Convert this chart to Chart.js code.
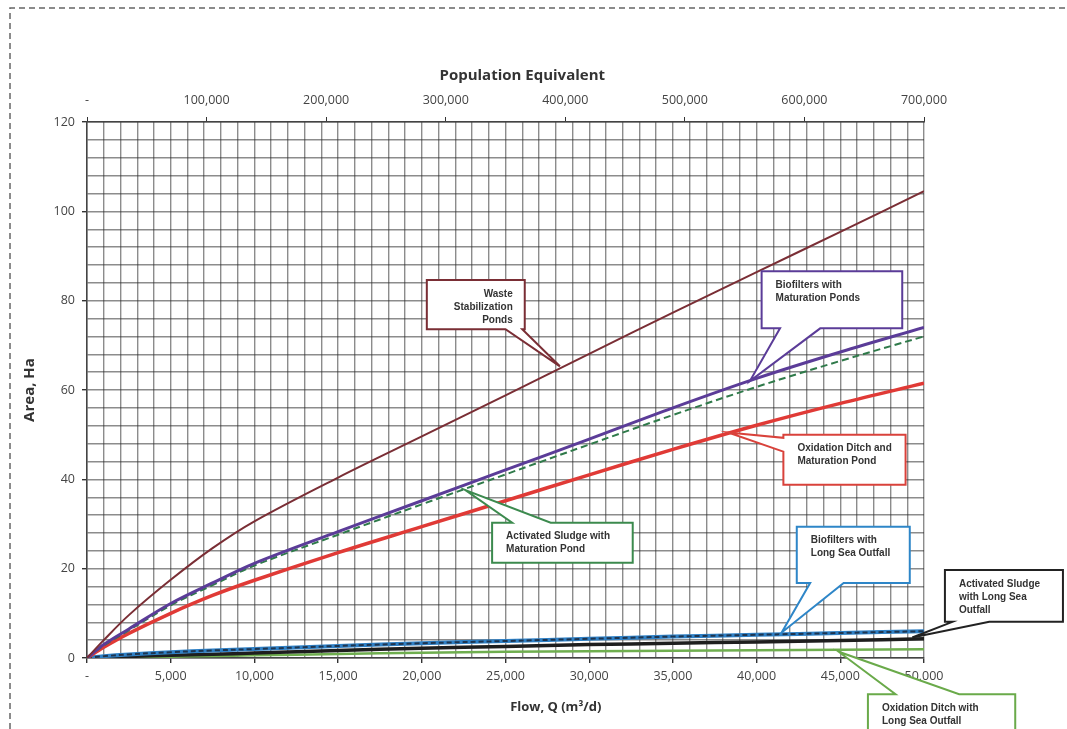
<!DOCTYPE html>
<html>
<head>
<meta charset="utf-8">
<script src="https://cdn.jsdelivr.net/npm/chart.js@4.4.1/dist/chart.umd.min.js"></script>
<style>
  html, body { margin: 0; padding: 0; background: #fff; }
  #wrap { width: 1067px; height: 729px; position: relative; }
</style>
</head>
<body>
<div id="wrap"><canvas id="myChart"></canvas></div>
<script>
// Flow, Q (m3/d) sample points
const flow = [0, 1000, 2500, 5000, 7500, 10000, 15000, 20000, 25000, 30000, 35000, 40000, 45000, 50000];

// Area, Ha
const wasteStabPonds   = [0, 4.0, 9.6, 17.5, 24.6, 30.6, 40.4, 49.6, 58.8, 68.1, 77.3, 86.4, 95.4, 104.5];
const biofiltersMP     = [0, 3.0, 6.5, 12.2, 16.8, 21.2, 28.3, 35.2, 42.1, 49, 56, 62.6, 68.5, 74];
const activatedMP      = [0, 2.8, 6.2, 11.8, 16.3, 20.7, 27.6, 34.4, 41.1, 47.8, 54.4, 60.7, 66.5, 72];
const oxidationMP      = [0, 2.4, 5.5, 10, 14, 17.4, 23.6, 29.4, 35.2, 41, 46.7, 52.1, 57, 61.5];
const biofiltersLSO    = [0, 0.4, 0.8, 1.3, 1.7, 2.0, 2.7, 3.3, 3.8, 4.3, 4.8, 5.2, 5.6, 6.0];
const activatedLSO     = [0, 0.15, 0.35, 0.6, 0.85, 1.1, 1.7, 2.2, 2.6, 3.0, 3.3, 3.6, 3.9, 4.3];
const oxidationLSO     = [0, 0.06, 0.15, 0.3, 0.45, 0.6, 0.9, 1.2, 1.4, 1.5, 1.65, 1.75, 1.85, 1.95];

// tick labels
const areaLabels = [0, 20, 40, 60, 80, 100, 120];
const flowLabels = [5000, 10000, 15000, 20000, 25000, 30000, 35000, 40000, 45000, 50000];
const popLabels  = [100000, 200000, 300000, 400000, 500000, 600000, 700000];

const pts = (arr) => arr.map((v, i) => ({ x: flow[i], y: v }));
const fmt = (v) => v.toLocaleString('en-US');

// callout boxes, positioned in data units (flow, area)
const callouts = [
  { lines: ['Waste', 'Stabilization', 'Ponds'], color: '#7a2e35', align: 'right',
    box: [20300, 84.6, 26150, 73.6], side: 'bottom', base: [25000, 26000], tip: [28250, 65.3] },
  { lines: ['Biofilters with', 'Maturation Ponds'], color: '#5b3c98', align: 'left',
    box: [40300, 86.6, 48700, 73.8], side: 'bottom', base: [41400, 43800], tip: [39600, 62.0] },
  { lines: ['Oxidation Ditch and', 'Maturation Pond'], color: '#d9423b', align: 'left',
    box: [41600, 50.0, 48900, 38.8], side: 'left', base: [49.3, 46.2], tip: [38300, 50.5] },
  { lines: ['Activated Sludge with', 'Maturation Pond'], color: '#3c8a4e', align: 'left',
    box: [24200, 30.3, 32600, 21.3], side: 'top', base: [25400, 27700], tip: [22600, 37.6] },
  { lines: ['Biofilters with', 'Long Sea Outfall'], color: '#2e86c8', align: 'left',
    box: [42400, 29.4, 49150, 16.8], side: 'bottom', base: [43200, 45200], tip: [41500, 5.7] },
  { lines: ['Activated Sludge', 'with Long Sea', 'Outfall'], color: '#222222', align: 'left',
    box: [51250, 19.7, 58300, 8.1], side: 'bottom', base: [51700, 53900], tip: [49300, 4.6] },
  { lines: ['Oxidation Ditch with', 'Long Sea Outfall'], color: '#6aaa4a', align: 'left',
    box: [46650, -8.1, 55450, -17.5], side: 'top', base: [48300, 52100], tip: [44900, 1.4] }
];

const pagePlugin = {
  id: 'page',
  beforeDraw(chart) {
    const ctx = chart.ctx;
    ctx.save();
    ctx.fillStyle = '#fff';
    ctx.fillRect(0, 0, chart.width, chart.height);
    // scanned frame
    ctx.strokeStyle = '#666';
    ctx.lineWidth = 1.5;
    ctx.setLineDash([6, 4]);
    ctx.beginPath();
    ctx.moveTo(10, chart.height);
    ctx.lineTo(10, 8);
    ctx.lineTo(chart.width, 8);
    ctx.stroke();
    ctx.restore();
  },
  afterDraw(chart) {
    const ctx = chart.ctx;
    const xs = chart.scales.x, ys = chart.scales.y;
    const a = chart.chartArea;

    // axis titles
    ctx.save();
    ctx.fillStyle = '#333';
    ctx.textAlign = 'center';
    ctx.textBaseline = 'middle';
    ctx.font = 'bold 15px "Open Sans", sans-serif';
    ctx.fillText('Population Equivalent', a.left + (a.right - a.left) * 0.52, 76);
    ctx.font = 'bold 13px "Open Sans", sans-serif';
    ctx.fillText('Flow, Q (m\u00B3/d)', a.left + (a.right - a.left) * 0.56, 707);
    ctx.translate(30, (a.top + a.bottom) / 2);
    ctx.rotate(-Math.PI / 2);
    ctx.font = 'bold 15px "Open Sans", sans-serif';
    ctx.fillText('Area, Ha', 0, 0);
    ctx.restore();

    // callouts
    callouts.forEach((c) => {
      const L = xs.getPixelForValue(c.box[0]);
      const T = ys.getPixelForValue(c.box[1]);
      const R = xs.getPixelForValue(c.box[2]);
      const B = ys.getPixelForValue(c.box[3]);
      const tx = xs.getPixelForValue(c.tip[0]);
      const ty = ys.getPixelForValue(c.tip[1]);
      ctx.save();
      ctx.beginPath();
      if (c.side === 'bottom') {
        const b1 = xs.getPixelForValue(c.base[0]), b2 = xs.getPixelForValue(c.base[1]);
        ctx.moveTo(L, T); ctx.lineTo(R, T); ctx.lineTo(R, B);
        ctx.lineTo(b2, B); ctx.lineTo(tx, ty); ctx.lineTo(b1, B);
        ctx.lineTo(L, B);
      } else if (c.side === 'top') {
        const b1 = xs.getPixelForValue(c.base[0]), b2 = xs.getPixelForValue(c.base[1]);
        ctx.moveTo(L, T); ctx.lineTo(b1, T); ctx.lineTo(tx, ty); ctx.lineTo(b2, T);
        ctx.lineTo(R, T); ctx.lineTo(R, B); ctx.lineTo(L, B);
      } else {
        const b1 = ys.getPixelForValue(c.base[0]), b2 = ys.getPixelForValue(c.base[1]);
        ctx.moveTo(L, T); ctx.lineTo(R, T); ctx.lineTo(R, B); ctx.lineTo(L, B);
        ctx.lineTo(L, b2); ctx.lineTo(tx, ty); ctx.lineTo(L, b1);
      }
      ctx.closePath();
      ctx.fillStyle = '#fff';
      ctx.fill();
      ctx.strokeStyle = c.color;
      ctx.lineWidth = 2;
      ctx.lineJoin = 'miter';
      ctx.stroke();

      ctx.fillStyle = '#333';
      ctx.font = 'bold 10px "Liberation Sans Narrow", "Liberation Sans", sans-serif';
      ctx.textBaseline = 'middle';
      ctx.textAlign = c.align;
      const x = c.align === 'right' ? R - 12 : L + 14;
      c.lines.forEach((ln, i) => ctx.fillText(ln, x, T + 14 + i * 13));
      ctx.restore();
    });
  }
};

const tickFont = { family: '"Open Sans", sans-serif', size: 12.5 };
const gridColor = 'rgba(45,45,45,0.55)';

const ctx = document.getElementById('myChart').getContext('2d');
const myChart = new Chart(ctx, {
  type: 'line',
  data: {
    datasets: [
      { label: 'Waste Stabilization Ponds', data: pts(wasteStabPonds), borderColor: '#7a2e35', borderWidth: 2 },
      { label: 'Biofilters with Maturation Ponds', data: pts(biofiltersMP), borderColor: '#5b3c98', borderWidth: 3 },
      { label: 'Activated Sludge with Maturation Pond', data: pts(activatedMP), borderColor: '#2f7a4a', borderWidth: 2, borderDash: [7, 4] },
      { label: 'Oxidation Ditch and Maturation Pond', data: pts(oxidationMP), borderColor: '#e03a36', borderWidth: 3.5 },
      { label: 'Biofilters with Long Sea Outfall (dash)', data: pts(biofiltersLSO), borderColor: '#1e3550', borderWidth: 2, borderDash: [5, 3] },
      { label: 'Biofilters with Long Sea Outfall', data: pts(biofiltersLSO), borderColor: '#2f80c5', borderWidth: 4 },
      { label: 'Activated Sludge with Long Sea Outfall', data: pts(activatedLSO), borderColor: '#1e1e1e', borderWidth: 3.5 },
      { label: 'Oxidation Ditch with Long Sea Outfall', data: pts(oxidationLSO), borderColor: '#6fae4f', borderWidth: 2.5 }
    ]
  },
  options: {
    responsive: true,
    maintainAspectRatio: false,
    animation: false,
    layout: { padding: { left: 0, top: 0, right: 143, bottom: 0 } },
    elements: {
      point: { radius: 0 },
      line: { tension: 0.35, fill: false }
    },
    plugins: { legend: { display: false }, tooltip: { enabled: false } },
    scales: {
      x: {
        type: 'linear', position: 'bottom', min: 0, max: 50000,
        afterFit: (s) => { s.height = 71; },
        ticks: {
          stepSize: 1000, autoSkip: false, maxRotation: 0, padding: 6,
          color: '#444', font: tickFont,
          callback: (v) => v === 0 ? '-' : (flowLabels.includes(v) ? fmt(v) : '')
        },
        grid: {
          color: gridColor, lineWidth: 1.4, tickLength: 5,
          tickColor: (c) => (c.tick && (c.tick.value % 5000 === 0)) ? '#333' : 'rgba(0,0,0,0)'
        },
        border: { color: '#444', width: 1.5 }
      },
      x2: {
        type: 'linear', position: 'top', min: 0, max: 700000,
        afterFit: (s) => { s.height = 122; },
        ticks: {
          stepSize: 100000, autoSkip: false, maxRotation: 0, padding: 9,
          color: '#444', font: tickFont,
          callback: (v) => v === 0 ? '-' : (popLabels.includes(v) ? fmt(v) : '')
        },
        grid: { drawOnChartArea: false, tickLength: 5, tickColor: '#333' },
        border: { color: '#444', width: 1.5 }
      },
      y: {
        type: 'linear', min: 0, max: 120,
        afterFit: (s) => { s.width = 87; },
        ticks: {
          stepSize: 4, autoSkip: false, padding: 7,
          color: '#444', font: tickFont,
          callback: (v) => areaLabels.includes(v) ? String(v) : ''
        },
        grid: {
          color: gridColor, lineWidth: 1.4, tickLength: 5,
          tickColor: (c) => (c.tick && (c.tick.value % 20 === 0)) ? '#333' : 'rgba(0,0,0,0)'
        },
        border: { color: '#444', width: 1.5 }
      }
    }
  },
  plugins: [pagePlugin]
});
</script>
</body>
</html>
